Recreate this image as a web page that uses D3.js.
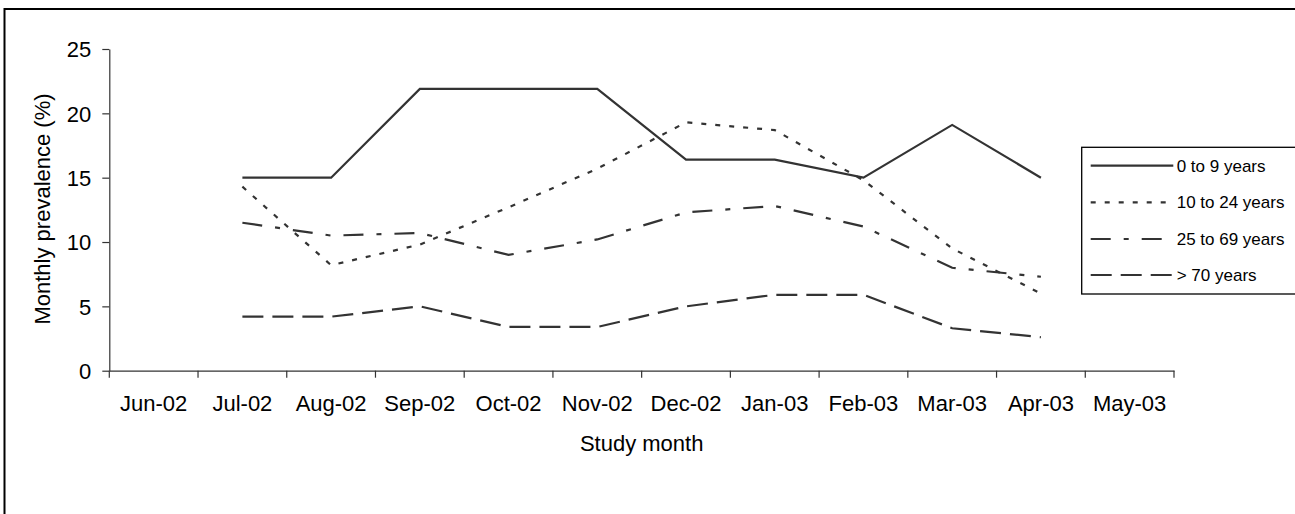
<!DOCTYPE html>
<html lang="en">
<head>
<meta charset="utf-8">
<title>Monthly prevalence by age group</title>
<style>
body { margin: 0; background: #fff; }
svg text { font-family: "Liberation Sans", Arial, sans-serif; fill: #000; }
.axis path, .axis line { stroke: #333; stroke-width: 1.2; fill: none; }
.axis text { font-size: 22px; }
.series { fill: none; stroke: #333; stroke-width: 2.2; }
</style>
</head>
<body>
<script src="https://d3js.org/d3.v7.min.js"></script>
<script>
// months on the x axis
var months = ["Jun-02", "Jul-02", "Aug-02", "Sep-02", "Oct-02", "Nov-02",
              "Dec-02", "Jan-03", "Feb-03", "Mar-03", "Apr-03", "May-03"];
var seriesNames = ["0 to 9 years", "10 to 24 years", "25 to 69 years", "> 70 years"];
// values per month, null = no data
var age0to9   = [null, 15.0, 15.0, 21.9, 21.9, 21.9, 16.4, 16.4, 15.0, 19.1, 15.0, null];
var age10to24 = [null, 14.3, 8.2, 9.8, 12.7, 15.7, 19.3, 18.7, 14.8, 9.5, 6.0, null];
var age25to69 = [null, 11.5, 10.5, 10.7, 9.0, 10.2, 12.3, 12.8, 11.2, 8.0, 7.3, null];
var age70plus = [null, 4.2, 4.2, 5.0, 3.4, 3.4, 5.0, 5.9, 5.9, 3.3, 2.6, null];
var yTicks = [0, 5, 10, 15, 20, 25];

var dashes = ["none", "5,9", "20,13,5,13", "21,9"];
var allSeries = [age0to9, age10to24, age25to69, age70plus];

var svg = d3.select("body").append("svg")
    .attr("width", 1295).attr("height", 514);

// outer chart frame (runs past the right and bottom edge)
svg.append("rect")
    .attr("x", 4.5).attr("y", 9)
    .attr("width", 1320).attr("height", 540)
    .attr("fill", "none").attr("stroke", "#000").attr("stroke-width", 2);

var plotLeft = 109.3, plotRight = 1174, plotTop = 49, plotBottom = 370.7;

var x = d3.scaleBand().domain(months).range([plotLeft, plotRight]).padding(0);
var y = d3.scaleLinear().domain([0, 25]).range([plotBottom, plotTop]);

// y axis
svg.append("g")
    .attr("class", "axis")
    .attr("transform", "translate(" + plotLeft + ",0)")
    .call(d3.axisLeft(y).tickValues(yTicks).tickSize(7).tickPadding(11).tickSizeOuter(0))
    .call(function(g) { g.selectAll("text").attr("dy", "0.36em"); });

// x axis labels (centred in each category)
var xa = svg.append("g")
    .attr("class", "axis")
    .attr("transform", "translate(0," + plotBottom + ")")
    .call(d3.axisBottom(x).tickSize(0).tickPadding(25).tickSizeOuter(0));
xa.selectAll("text").attr("dy", "0.71em");

// x ticks sit on the category boundaries
var bounds = months.map(function(m) { return x(m); }).concat([plotRight]);
xa.selectAll(".bound")
    .data(bounds)
    .enter().append("line")
    .attr("class", "bound")
    .attr("x1", function(d) { return d; })
    .attr("x2", function(d) { return d; })
    .attr("y1", 0).attr("y2", 7);

// axis titles
svg.append("text")
    .attr("transform", "translate(50,209) rotate(-90)")
    .attr("text-anchor", "middle")
    .style("font-size", "22px")
    .text("Monthly prevalence (%)");

svg.append("text")
    .attr("x", (plotLeft + plotRight) / 2).attr("y", 451)
    .attr("text-anchor", "middle")
    .style("font-size", "22px")
    .text("Study month");

// lines
var line = d3.line()
    .defined(function(d) { return d != null; })
    .x(function(d, i) { return x(months[i]) + x.bandwidth() / 2; })
    .y(function(d) { return y(d); });

svg.selectAll(".series")
    .data(allSeries)
    .enter().append("path")
    .attr("class", "series")
    .attr("stroke-dasharray", function(d, i) { return dashes[i]; })
    .attr("d", line);

// legend
var lg = svg.append("g");
lg.append("rect")
    .attr("x", 1081.7).attr("y", 147.3)
    .attr("width", 240).attr("height", 146.7)
    .attr("fill", "#fff").attr("stroke", "#000").attr("stroke-width", 1.3);

var rowY = [165.7, 202.3, 239, 275];
seriesNames.forEach(function(name, i) {
    lg.append("line")
        .attr("class", "series")
        .attr("x1", 1090.7).attr("x2", 1173.3)
        .attr("y1", rowY[i]).attr("y2", rowY[i])
        .attr("stroke-dasharray", dashes[i]);
    lg.append("text")
        .attr("x", 1176.7).attr("y", rowY[i] + 6)
        .style("font-size", "17px")
        .text(name);
});
</script>
</body>
</html>
